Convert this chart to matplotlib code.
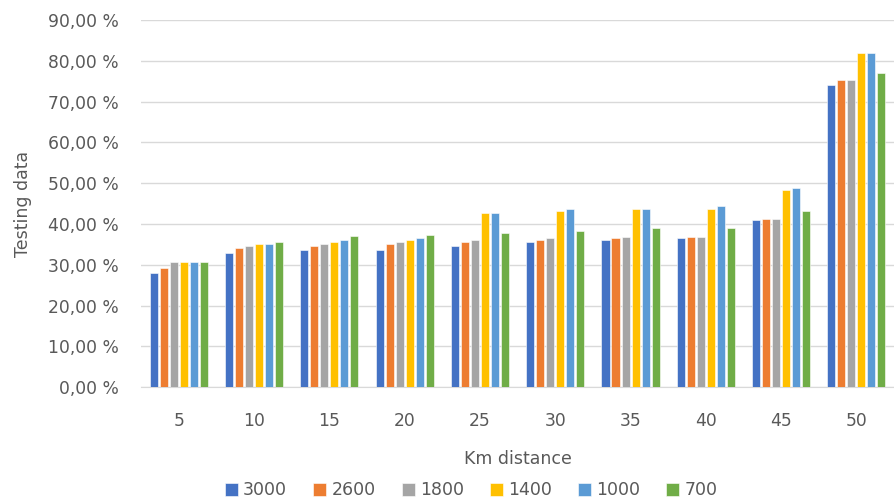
import numpy as np
import matplotlib.pyplot as plt
from matplotlib.ticker import FuncFormatter

# km distance categories
distances = ["5", "10", "15", "20", "25", "30", "35", "40", "45", "50"]
series_names = ["3000", "2600", "1800", "1400", "1000", "700"]

# testing data (%) per series
s3000 = [28.1, 33.0, 33.5, 33.5, 34.5, 35.5, 36.0, 36.5, 40.9, 74.2]
s2600 = [29.1, 34.0, 34.6, 35.0, 35.5, 36.0, 36.5, 36.9, 41.3, 75.2]
s1800 = [30.6, 34.6, 35.0, 35.5, 36.0, 36.5, 36.9, 36.9, 41.3, 75.2]
s1400 = [30.6, 35.0, 35.5, 36.0, 42.8, 43.3, 43.8, 43.8, 48.3, 82.0]
s1000 = [30.6, 35.0, 36.0, 36.5, 42.8, 43.8, 43.8, 44.3, 48.8, 82.0]
s700 = [30.6, 35.5, 37.0, 37.4, 37.9, 38.4, 38.9, 38.9, 43.3, 77.1]

series = [s3000, s2600, s1800, s1400, s1000, s700]
colors = ["#4472C4", "#ED7D31", "#A5A5A5", "#FFC000", "#5B9BD5", "#70AD47"]

text_color = "#595959"
plt.rcParams['font.family'] = ['DejaVu Sans']

fig = plt.figure(figsize=(8.94, 5.04), dpi=100)
ax = fig.add_axes([0.158, 0.232, 0.842, 0.728])

x = np.arange(len(distances))
pitch = 0.133
width = 0.107
for i, (vals, name, c) in enumerate(zip(series, series_names, colors)):
    offset = (i - (len(series) - 1) / 2) * pitch
    ax.bar(x + offset, vals, width, color=c, label=name,
           edgecolor="white", linewidth=0.4, zorder=3)

ax.set_xlim(-0.5, len(distances) - 0.5)
ax.set_ylim(0, 90)
ax.set_yticks(np.arange(0, 91, 10))
ax.yaxis.set_major_formatter(FuncFormatter(lambda v, p: f"{v:.2f} %".replace(".", ",")))
ax.set_xticks(x)
ax.set_xticklabels(distances)

ax.grid(axis="y", color="#D9D9D9", linewidth=1, zorder=0)
for side in ["top", "right", "left"]:
    ax.spines[side].set_visible(False)
ax.spines["bottom"].set_color("#D9D9D9")
ax.tick_params(axis="both", length=0, labelsize=12.3, labelcolor=text_color)
ax.tick_params(axis="x", pad=18)
ax.tick_params(axis="y", pad=16)

ax.set_xlabel("Km distance", fontsize=12.5, color=text_color, labelpad=14)
ax.set_ylabel("Testing data", fontsize=12.5, color=text_color)
ax.yaxis.set_label_coords(-0.145, 0.5)

fig.legend(loc="center", bbox_to_anchor=(0.527, 0.027), ncol=6, frameon=False,
           fontsize=12.5, labelcolor=text_color, handlelength=0.75, handleheight=0.75,
           handletextpad=0.3, columnspacing=1.5)

fig.savefig("out.png", dpi=100)
